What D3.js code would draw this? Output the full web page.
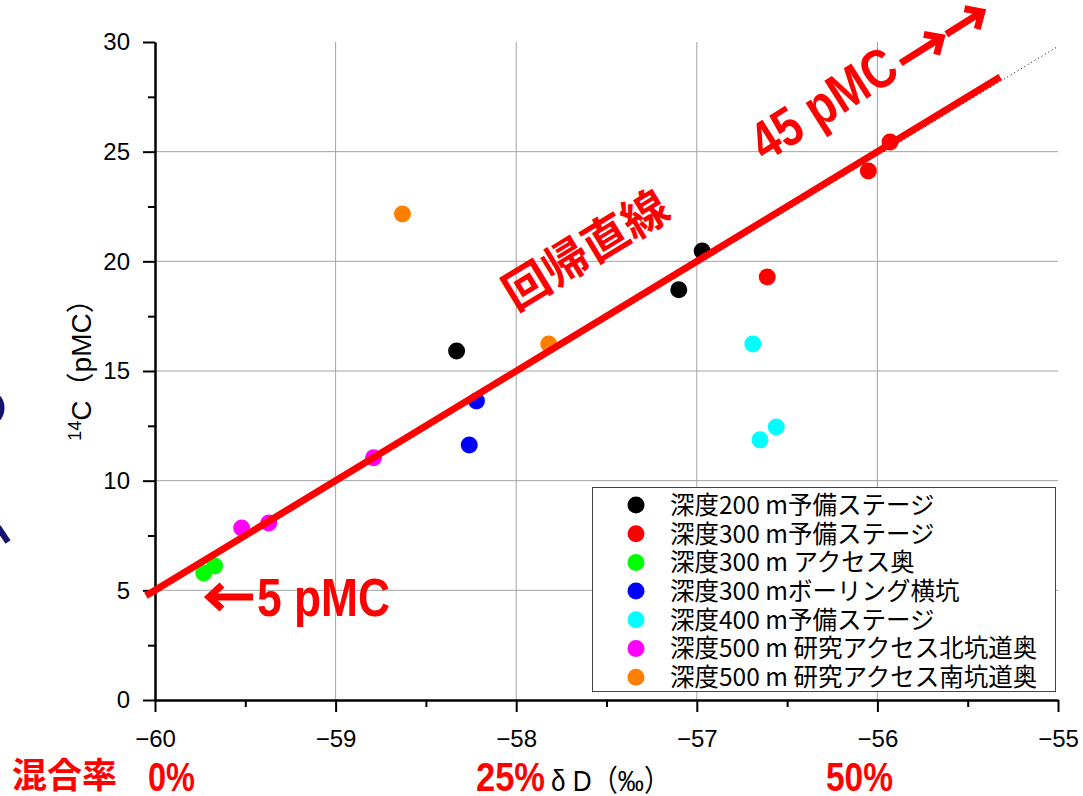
<!DOCTYPE html>
<html>
<head>
<meta charset="utf-8">
<script src="https://cdn.jsdelivr.net/npm/d3@7"></script>
<style>
  body { margin: 0; background: #fff; }
  svg { display: block; }
</style>
</head>
<body>
<svg id="chart" width="1083" height="796"></svg>
<script>
// 14C vs dD scatter, with regression line + mixing ratio notes

// series (legend order)
var seriesNames = [
  '深度200 m予備ステージ',
  '深度300 m予備ステージ',
  '深度300 m アクセス奥',
  '深度300 mボーリング横坑',
  '深度400 m予備ステージ',
  '深度500 m 研究アクセス北坑道奥',
  '深度500 m 研究アクセス南坑道奥'
];
var seriesColors = ['#000000', '#ff0000', '#00ff00', '#0000ff', '#00ffff', '#ff00ff', '#ff8000'];

// δD (‰) per series
var dD = [
  [-58.33, -57.10, -56.97],
  [-55.93, -56.05, -56.61],
  [-59.73, -59.67],
  [-58.22, -58.26],
  [-56.69, -56.65, -56.56],
  [-59.52, -59.37, -58.79],
  [-58.63, -57.82]
];
// 14C (pMC) per series
var c14 = [
  [15.91, 18.70, 20.47],
  [25.44, 24.12, 19.29],
  [5.79, 6.11],
  [13.63, 11.63],
  [16.23, 11.86, 12.45],
  [7.84, 8.07, 11.04],
  [22.16, 16.23]
];

// regression line: pMC = regIntercept + regSlope * (dD + 60)
var regX = [-60.05, -55.32];
var regIntercept = 5, regSlope = 5;
// thin dotted fit underneath
var fitX = [-60, -55];
var fitIntercept = 4.9, fitSlope = 4.98;

var xTicks = [-60, -59, -58, -57, -56, -55];
var xTickLabels = ['\u221260', '\u221259', '\u221258', '\u221257', '\u221256', '\u221255'];
var xMinor = [-59.5, -58.5, -57.5, -56.5, -55.5];
var yTicks = [0, 5, 10, 15, 20, 25, 30];
var yMinor = [2.5, 7.5, 12.5, 17.5, 22.5, 27.5];

// mixing ratio labels under the x axis
var mixLabels = ['0%', '25%', '50%'];

var svg = d3.select('#chart');
var x = d3.scaleLinear().domain([-60, -55]).range([155, 1058]);
var y = d3.scaleLinear().domain([0, 30]).range([700, 42]);

var latin = '"Liberation Sans", Arial, sans-serif';
var jp = '"Noto Sans CJK JP", "Noto Sans CJK SC", sans-serif';
var RED = '#ff0000';

// grid
var grid = svg.append('g').attr('class', 'grid').attr('stroke', '#a3a3a3').attr('stroke-width', 1);
grid.selectAll('.vg').data(xTicks.slice(1, -1)).enter().append('line')
  .attr('x1', function(d) { return x(d); }).attr('x2', function(d) { return x(d); })
  .attr('y1', y(30)).attr('y2', y(0));
grid.selectAll('.hg').data(yTicks.slice(1, -1)).enter().append('line')
  .attr('x1', x(-60)).attr('x2', x(-55))
  .attr('y1', function(d) { return y(d); }).attr('y2', function(d) { return y(d); });

// axes
function styleAxis(g) {
  g.select('.domain').attr('stroke', '#000').attr('stroke-width', 2);
  g.selectAll('.tick line').attr('stroke', '#000').attr('stroke-width', 2);
  g.selectAll('.tick text').attr('fill', '#000').attr('font-family', latin).attr('font-size', 24);
}

var xAxis = svg.append('g').attr('transform', 'translate(0,' + y(0) + ')')
  .call(d3.axisBottom(x).tickValues(xTicks).tickSize(12).tickSizeOuter(0).tickPadding(18)
    .tickFormat(function(d, i) { return xTickLabels[i]; }));
styleAxis(xAxis);
var xAxisMinor = svg.append('g').attr('transform', 'translate(0,' + y(0) + ')')
  .call(d3.axisBottom(x).tickValues(xMinor).tickSize(7).tickSizeOuter(0).tickFormat(''));
styleAxis(xAxisMinor);

var yAxis = svg.append('g').attr('transform', 'translate(' + x(-60) + ',0)')
  .call(d3.axisLeft(y).tickValues(yTicks).tickSize(12).tickSizeOuter(0).tickPadding(13));
styleAxis(yAxis);
var yAxisMinor = svg.append('g').attr('transform', 'translate(' + x(-60) + ',0)')
  .call(d3.axisLeft(y).tickValues(yMinor).tickSize(7).tickSizeOuter(0).tickFormat(''));
styleAxis(yAxisMinor);

// axis titles
var yTitle = svg.append('text')
  .attr('transform', 'translate(91,363) rotate(-90)')
  .attr('text-anchor', 'middle')
  .attr('font-family', latin + ', ' + jp).attr('font-size', 28).attr('fill', '#000');
yTitle.append('tspan').attr('font-size', 18).attr('baseline-shift', '10').text('14');
yTitle.append('tspan').text('C（pMC）');

svg.append('text')
  .attr('x', 551).attr('y', 791)
  .attr('font-family', latin + ', ' + jp).attr('font-size', 30).attr('fill', '#000')
  .attr('textLength', 119).attr('lengthAdjust', 'spacingAndGlyphs')
  .text('δ D（‰）');

// points
var pts = svg.append('g').attr('class', 'points');
seriesNames.forEach(function(name, s) {
  var rows = dD[s].map(function(v, i) { return { x: v, y: c14[s][i] }; });
  pts.selectAll('.s' + s).data(rows).enter().append('circle')
    .attr('class', 's' + s)
    .attr('cx', function(d) { return x(d.x); })
    .attr('cy', function(d) { return y(d.y); })
    .attr('r', 8.5)
    .attr('fill', seriesColors[s]);
});

// regression line
var fitLine = d3.line()
  .x(function(d) { return x(d); })
  .y(function(d) { return y(fitIntercept + fitSlope * (d + 60)); });
svg.append('path').datum(fitX).attr('d', fitLine)
  .attr('stroke', '#000').attr('stroke-width', 1).attr('stroke-dasharray', '1,3').attr('fill', 'none');

var regLine = d3.line()
  .x(function(d) { return x(d); })
  .y(function(d) { return y(regIntercept + regSlope * (d + 60)); });
svg.append('path').datum(regX).attr('d', regLine)
  .attr('stroke', RED).attr('stroke-width', 7).attr('fill', 'none');

// slope angle of the line on screen, for the rotated notes
var ang = Math.atan2(y(regIntercept + regSlope * (regX[1] + 60)) - y(regIntercept + regSlope * (regX[0] + 60)),
  x(regX[1]) - x(regX[0])) * 180 / Math.PI;

svg.append('text')
  .attr('transform', 'translate(584,247) rotate(' + ang + ')')
  .attr('text-anchor', 'middle').attr('dominant-baseline', 'central')
  .attr('font-family', jp).attr('font-weight', 'bold').attr('font-size', 46)
  .attr('fill', RED).text('回帰直線');

// thick arrow, pointing from x0 to x1 along y=cy
function arrow(g, x0, x1, cy) {
  var dir = x1 > x0 ? 1 : -1;
  g.append('path')
    .attr('d', 'M' + x0 + ',' + cy + 'L' + x1 + ',' + cy +
      'M' + (x1 - dir * 13) + ',' + (cy - 12) + 'L' + x1 + ',' + cy + 'L' + (x1 - dir * 13) + ',' + (cy + 12))
    .attr('fill', 'none').attr('stroke', RED).attr('stroke-width', 7)
    .attr('stroke-linejoin', 'miter').attr('stroke-linecap', 'butt');
}

var note45 = svg.append('g').attr('transform', 'translate(765,163) rotate(' + (ang - 1) + ')')
  .attr('fill', RED).attr('font-family', latin).attr('font-weight', 'bold');
note45.append('text').attr('x', 0).attr('y', 0).attr('font-size', 55)
  .attr('textLength', 162).attr('lengthAdjust', 'spacingAndGlyphs').text('45 pMC');
arrow(note45, 168, 216, -12);
arrow(note45, 222, 264, -12);

var note5 = svg.append('g').attr('fill', RED).attr('font-family', latin).attr('font-weight', 'bold');
arrow(note5, 253, 209, 597);
note5.append('text').attr('x', 257).attr('y', 616).attr('font-size', 54)
  .attr('textLength', 133).attr('lengthAdjust', 'spacingAndGlyphs').text('5 pMC');

// mixing ratio
svg.append('text').attr('x', 12).attr('y', 788)
  .attr('font-family', jp).attr('font-weight', 'bold').attr('font-size', 35)
  .attr('fill', RED).text('混合率');
var mixX = [148, 476, 826], mixW = [47, 69, 67];
svg.selectAll('.mix').data(mixLabels).enter().append('text')
  .attr('class', 'mix')
  .attr('x', function(d, i) { return mixX[i]; }).attr('y', 791)
  .attr('font-family', latin).attr('font-weight', 'bold').attr('font-size', 40)
  .attr('textLength', function(d, i) { return mixW[i]; }).attr('lengthAdjust', 'spacingAndGlyphs')
  .attr('fill', RED).text(function(d) { return d; });

// legend
var legend = svg.append('g').attr('class', 'legend');
legend.append('rect').attr('x', 592.5).attr('y', 487.5).attr('width', 463).attr('height', 204)
  .attr('fill', '#fff').attr('stroke', '#444').attr('stroke-width', 1);
var rowsG = legend.selectAll('.row').data(seriesNames).enter().append('g')
  .attr('transform', function(d, i) { return 'translate(0,' + (505 + i * 28.7) + ')'; });
rowsG.append('circle').attr('cx', 636).attr('cy', 0).attr('r', 8.5)
  .attr('fill', function(d, i) { return seriesColors[i]; });
rowsG.append('text').attr('x', 670).attr('y', 0).attr('dy', '0.36em')
  .attr('font-family', jp).attr('font-size', 24.5).attr('fill', '#000')
  .text(function(d) { return d; });

// bits of something cut off at the left edge
svg.append('ellipse').attr('cx', -9).attr('cy', 408).attr('rx', 11).attr('ry', 14)
  .attr('fill', 'none').attr('stroke', '#14146e').attr('stroke-width', 5);
svg.append('line').attr('x1', -2).attr('y1', 527).attr('x2', 8).attr('y2', 542)
  .attr('stroke', '#14146e').attr('stroke-width', 6);
</script>
</body>
</html>
